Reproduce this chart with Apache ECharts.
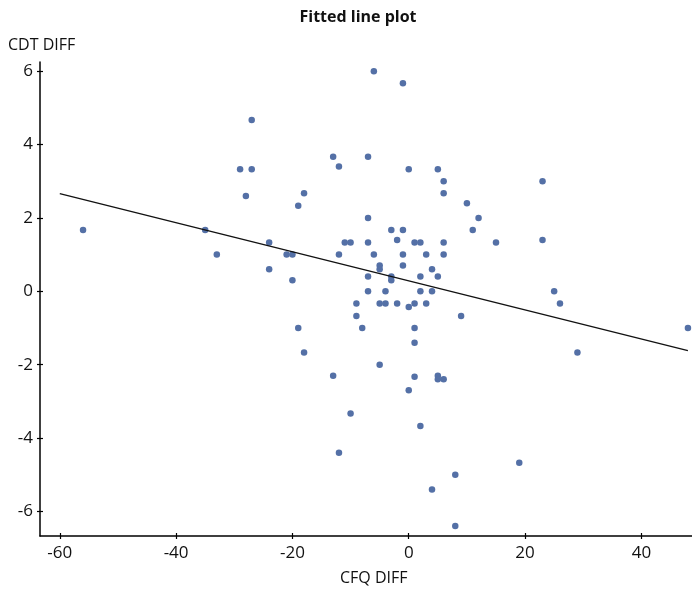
<!DOCTYPE html>
<html>
<head>
<meta charset="utf-8">
<title>Fitted line plot</title>
<script src="https://cdn.jsdelivr.net/npm/echarts@6/dist/echarts.min.js"></script>
<style>
    html, body { margin: 0; padding: 0; background: #fff; }
    #divChart { width: 692px; height: 590px; }
</style>
</head>
<body>
<div id="divChart"></div>
<script>
    // CFQ DIFF (x) / CDT DIFF (y)
    var cfqDiff = [-56, -35, -33, -29, -27, -27, -28, -24, -24, -21, -20, -20, -19, -18, -19, -18,
        -13, -12, -13, -12, -11, -10, -12, -10, -9, -9, -8, -7, -7, -7, -7, -7, -6, -6,
        -5, -5, -5, -5, -4, -4, -3, -3, -3, -2, -2, -1, -1, -1, -1, 0, 0, 0,
        1, 1, 1, 1, 1, 2, 2, 2, 2, 3, 3, 4, 4, 4, 5, 5, 5, 5, 6, 6, 6, 6, 6,
        8, 8, 9, 10, 11, 12, 15, 19, 23, 23, 25, 26, 29, 48];
    var cdtDiff = [1.67, 1.67, 1, 3.33, 3.33, 4.67, 2.6, 1.33, 0.6, 1, 1, 0.3, 2.33, 2.67, -1, -1.67,
        3.67, 3.4, -2.3, 1, 1.33, 1.33, -4.4, -3.33, -0.33, -0.67, -1, 3.67, 2, 1.33, 0.4, 0, 6, 1,
        0.7, 0.6, -0.33, -2, 0, -0.33, 1.67, 0.4, 0.3, 1.4, -0.33, 5.67, 1.67, 1, 0.7, 3.33, -0.43, -2.7,
        1.33, -0.33, -1, -1.4, -2.33, 1.33, 0.4, 0, -3.67, 1, -0.33, 0.6, 0, -5.4, 3.33, 0.4, -2.3, -2.4, 3, 2.67, 1.33, 1, -2.4,
        -5, -6.4, -0.67, 2.4, 1.67, 2, 1.33, -4.67, 3, 1.4, 0, -0.33, -1.67, -1];
    // fitted line end points
    var fitX = [-60, 48];
    var fitY = [2.66, -1.62];
    var xTicks = [-60, -40, -20, 0, 20, 40];
    var yTicks = [-6, -4, -2, 0, 2, 4, 6];

    var points = [];
    for (var i = 0; i < cfqDiff.length; i++) {
        points.push([cfqDiff[i], cdtDiff[i]]);
    }
    var fitLine = [];
    for (var j = 0; j < fitX.length; j++) {
        fitLine.push([fitX[j], fitY[j]]);
    }

    var myChart = echarts.init(document.getElementById('divChart'));
    var font = '"Open Sans", sans-serif';
    var tickStyle = { color: '#000', width: 1.2 };

    var option = {
        animation: false,
        backgroundColor: '#fff',
        title: {
            text: 'Fitted line plot',
            left: 353,
            textAlign: 'center',
            top: 4,
            textStyle: { fontFamily: font, fontSize: 16, fontWeight: 'bold', color: '#111' }
        },
        graphic: [
            { type: 'text', left: 8, top: 37,
              style: { text: 'CDT DIFF', font: '16px ' + font, fill: '#111' } },
            { type: 'text', left: 340, top: 570,
              style: { text: 'CFQ DIFF', font: '16px ' + font, fill: '#111' } }
        ],
        grid: { left: 40, right: 0, top: 62, bottom: 54 },
        xAxis: [
            {
                type: 'value', min: -63.4, max: 48.7,
                axisLine: { show: true, onZero: false, lineStyle: { color: '#000', width: 1.5 } },
                splitLine: { show: false },
                axisTick: { show: true, length: 3, customValues: xTicks, lineStyle: tickStyle },
                axisLabel: { customValues: xTicks, margin: 9, fontFamily: font, fontSize: 17, color: '#111' }
            },
            {
                // inner half of the crossing ticks
                type: 'value', min: -63.4, max: 48.7, position: 'bottom',
                axisLine: { show: false, onZero: false }, splitLine: { show: false }, axisLabel: { show: false },
                axisTick: { show: true, inside: true, length: 3, customValues: xTicks, lineStyle: tickStyle }
            }
        ],
        yAxis: [
            {
                type: 'value', min: -6.67, max: 6.25,
                axisLine: { show: true, onZero: false, lineStyle: { color: '#000', width: 1.5 } },
                splitLine: { show: false },
                axisTick: { show: true, length: 3, customValues: yTicks, lineStyle: tickStyle },
                axisLabel: { customValues: yTicks, margin: 7, fontFamily: font, fontSize: 17, color: '#111' }
            },
            {
                type: 'value', min: -6.67, max: 6.25, position: 'left',
                axisLine: { show: false, onZero: false }, splitLine: { show: false }, axisLabel: { show: false },
                axisTick: { show: true, inside: true, length: 3, customValues: yTicks, lineStyle: tickStyle }
            }
        ],
        series: [
            {
                type: 'scatter',
                data: points,
                symbolSize: 6.5,
                itemStyle: { color: '#5470a6', opacity: 1 }
            },
            {
                type: 'line',
                data: fitLine,
                symbol: 'none',
                lineStyle: { color: '#111', width: 1.3 },
                z: 3
            }
        ]
    };
    myChart.setOption(option);
</script>
</body>
</html>
